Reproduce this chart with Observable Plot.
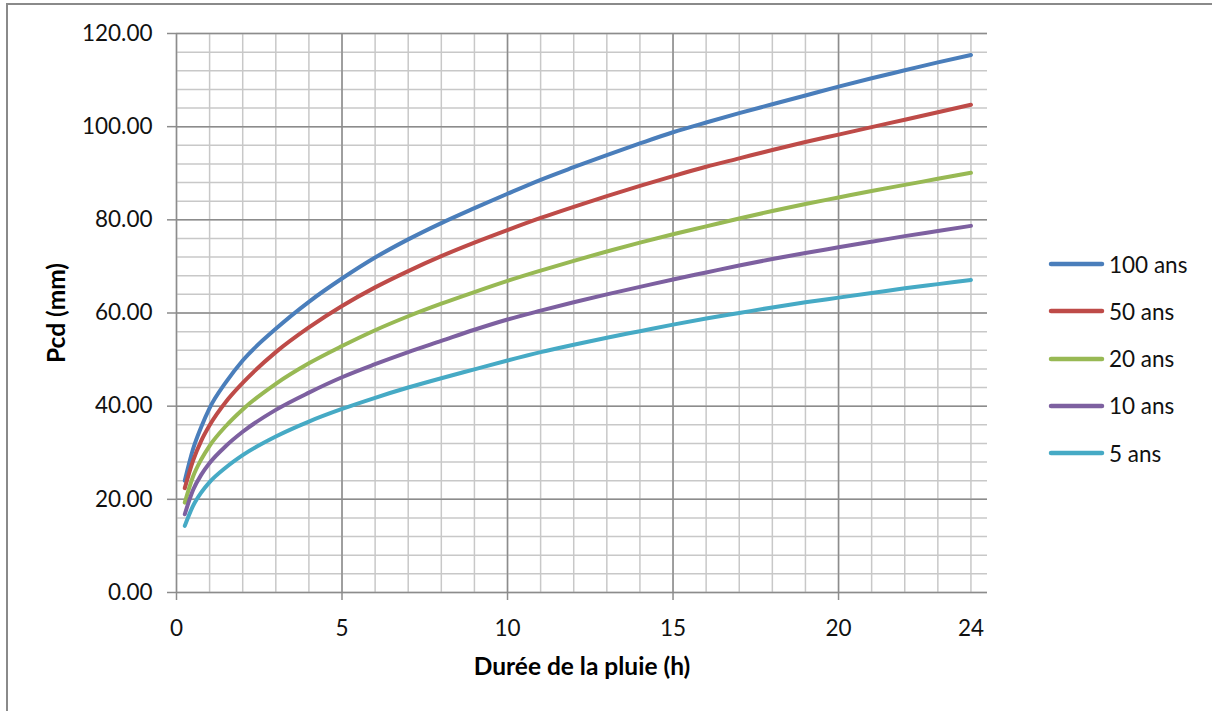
<!DOCTYPE html>
<html lang="fr">
<head>
<meta charset="utf-8">
<title>Pcd – durée de la pluie</title>
<script src="https://cdn.jsdelivr.net/npm/d3@7"></script>
<script src="https://cdn.jsdelivr.net/npm/@observablehq/plot@0.6"></script>
<style>
  body { margin: 0; background: #fff; }
  #chart { position: relative; width: 1212px; height: 711px; font-family: Lato, "Open Sans", sans-serif; color: #111; }
  #chart > svg { position: absolute; left: 0; top: 0; }
  #frame { position: absolute; left: 6px; top: 3px; right: 0; bottom: 0; border-top: 2px solid #8a8a8a; border-left: 2px solid #8a8a8a; pointer-events: none; }
  #chart .leg { position: absolute; left: 1048px; height: 30px; display: flex; align-items: center; font-size: 22.5px; white-space: nowrap; }
  #chart .leg svg { position: static; display: block; margin-right: 4px; }
</style>
</head>
<body>
<div id="chart"><div id="frame"></div></div>
<script>
// Durées (h) et hauteurs de pluie Pcd (mm) par période de retour
const durees = [0.25, 0.5, 0.75, 1, 1.5, 2, 3, 4, 5, 6, 7, 8, 9, 10, 11, 12, 13, 14, 15, 16, 17, 18, 19, 20, 21, 22, 23, 24];
const pcd100 = [24.0, 30.8, 35.6, 39.6, 45.2, 49.8, 56.6, 62.4, 67.4, 71.9, 75.8, 79.3, 82.5, 85.6, 88.6, 91.3, 93.9, 96.4, 98.8, 100.9, 102.9, 104.8, 106.7, 108.6, 110.4, 112.1, 113.8, 115.4];
const pcd50  = [22.4, 28.3, 32.6, 35.9, 41.0, 45.0, 51.6, 56.9, 61.5, 65.5, 69.0, 72.2, 75.1, 77.8, 80.4, 82.8, 85.1, 87.3, 89.4, 91.4, 93.2, 95.0, 96.7, 98.3, 99.9, 101.5, 103.1, 104.7];
const pcd20  = [19.3, 24.9, 28.6, 31.5, 35.8, 39.3, 44.8, 49.2, 52.9, 56.3, 59.3, 62.0, 64.5, 66.9, 69.1, 71.2, 73.2, 75.1, 76.9, 78.6, 80.3, 81.9, 83.4, 84.8, 86.2, 87.5, 88.8, 90.1];
const pcd10  = [16.8, 22.0, 25.3, 27.8, 31.5, 34.5, 39.2, 42.9, 46.2, 49.0, 51.6, 54.0, 56.4, 58.6, 60.5, 62.3, 64.0, 65.6, 67.2, 68.7, 70.2, 71.6, 72.9, 74.1, 75.3, 76.5, 77.6, 78.7];
const pcd5   = [14.3, 18.6, 21.5, 23.7, 26.9, 29.5, 33.5, 36.7, 39.4, 41.8, 44.0, 46.0, 47.9, 49.8, 51.6, 53.2, 54.7, 56.1, 57.5, 58.8, 60.0, 61.2, 62.3, 63.3, 64.3, 65.3, 66.2, 67.1];

const seriesNames = ["100 ans", "50 ans", "20 ans", "10 ans", "5 ans"];
const seriesColors = ["#4a7ebb", "#be4b48", "#98b954", "#7d60a0", "#46aac5"];
const seriesValues = [pcd100, pcd50, pcd20, pcd10, pcd5];

const xTicks = [0, 5, 10, 15, 20];
const xLastTick = [24];
const yTicks = [0, 20, 40, 60, 80, 100, 120];
const xMinor = d3.range(0, 25, 1);
const yMinor = d3.range(0, 121, 4);

const rows = seriesNames.flatMap((name, k) =>
  durees.map((d, i) => ({ duree: d, pcd: seriesValues[k][i], serie: name }))
);

const gridMinor = "#c8c8c8";
const gridMajor = "#8c8c8c";
const font = "Lato, 'Open Sans', sans-serif";

const chart = Plot.plot({
  width: 1212,
  height: 711,
  marginLeft: 176,
  marginRight: 225,
  marginTop: 33,
  marginBottom: 119,
  x: { domain: [0, 24.5] },
  y: { domain: [0, 120] },
  color: { domain: seriesNames, range: seriesColors },
  style: { fontFamily: font, fontSize: "22.5px", color: "#111", background: "transparent", overflow: "visible" },
  marks: [
    Plot.ruleX(xMinor, { stroke: gridMinor, strokeWidth: 1.5 }),
    Plot.ruleY(yMinor, { stroke: gridMinor, strokeWidth: 1.5 }),
    Plot.ruleX(xTicks, { stroke: gridMajor, strokeWidth: 1.5 }),
    Plot.ruleY(yTicks, { stroke: gridMajor, strokeWidth: 1.5 }),
    Plot.axisY(yTicks, { tickSize: 9, tickPadding: 15, tickFormat: d => d.toFixed(2), stroke: gridMajor, strokeWidth: 1.5, fill: "#111", label: null }),
    Plot.axisX(xTicks, { tickSize: 8, tickPadding: 20, tickFormat: d => String(d), stroke: gridMajor, strokeWidth: 1.5, fill: "#111", label: null }),
    Plot.axisX(xLastTick, { tickSize: 0, tickPadding: 28, tickFormat: d => String(d), fill: "#111", label: null }),
    Plot.line(rows, { x: "duree", y: "pcd", z: "serie", stroke: "serie", strokeWidth: 4, curve: "monotone-x", strokeLinecap: "round", strokeLinejoin: "round" }),
    Plot.text(["Pcd (mm)"], { frameAnchor: "left", dx: -119, rotate: -90, textAnchor: "middle", lineAnchor: "middle", fontWeight: "bold", fontSize: 24.5, fill: "#000" }),
    Plot.text(["Durée de la pluie (h)"], { frameAnchor: "bottom", dy: 75, textAnchor: "middle", lineAnchor: "middle", fontWeight: "bold", fontSize: 24.5, fill: "#000" })
  ]
});

const root = document.getElementById("chart");
root.insertBefore(chart, root.firstChild);

// Légende à droite du graphique
const legendTop = 264, legendStep = 47.3;
seriesNames.forEach((name, i) => {
  const row = document.createElement("div");
  row.className = "leg";
  row.style.top = (legendTop + i * legendStep - 15) + "px";
  row.innerHTML = `<svg width="57" height="8"><line x1="3" y1="4" x2="54" y2="4" stroke="${seriesColors[i]}" stroke-width="4.5" stroke-linecap="round"/></svg><span>${name}</span>`;
  root.appendChild(row);
});
</script>
</body>
</html>
